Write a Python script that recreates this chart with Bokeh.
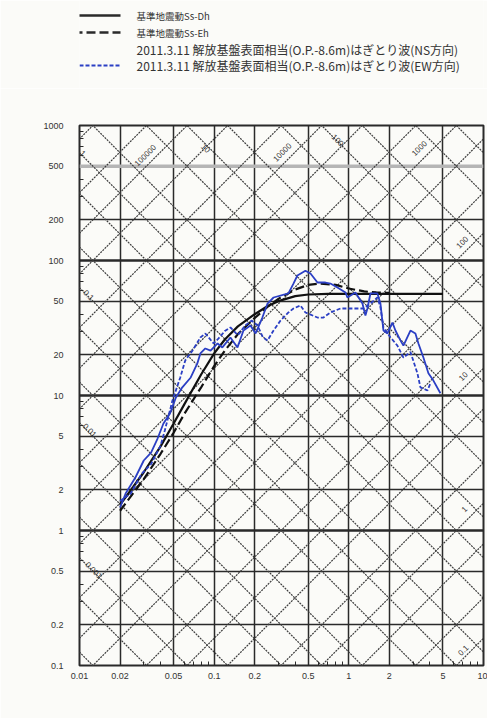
import math
from bokeh.plotting import figure
from bokeh.models import Range1d, FixedTicker, Grid, Label, CustomJSTickFormatter, Span, Arrow
from bokeh.layouts import column
from bokeh.embed import file_html
from bokeh.resources import INLINE
from bokeh.core.properties import value

# ---------------- data ----------------
dh_period = [0.02, 0.025, 0.03, 0.04, 0.05, 0.06, 0.07, 0.08, 0.1, 0.12, 0.15, 0.2, 0.25, 0.3, 0.4, 0.5, 0.7, 1.0, 2.0, 5.0]
dh_vel = [1.55, 2.1, 2.7, 4.2, 6.2, 8.6, 11.3, 14.3, 20.5, 26.0, 32.5, 40.0, 46.0, 50.0, 54.5, 56.0, 56.5, 56.5, 56.5, 56.5]

eh_period = [0.02, 0.03, 0.04, 0.05, 0.06, 0.08, 0.1, 0.12, 0.15, 0.2, 0.25, 0.3, 0.4, 0.5, 0.6, 0.8, 1.0, 1.3, 1.6, 2.0]
eh_vel = [1.4, 2.4, 3.7, 5.3, 7.3, 11.5, 16.5, 21.5, 28.5, 37.5, 45.5, 52.0, 61.0, 66.0, 67.5, 66.0, 62.0, 59.0, 58.0, 57.5]

ns_period = [0.020, 0.022, 0.026, 0.030, 0.034, 0.038, 0.042, 0.047, 0.052, 0.058, 0.067, 0.075, 0.079, 0.086,
             0.094, 0.106, 0.115, 0.132, 0.149, 0.165, 0.186, 0.203, 0.228, 0.249, 0.276, 0.356, 0.388, 0.415,
             0.476, 0.519, 0.585, 0.670, 0.730, 0.823, 0.944, 0.976, 1.119, 1.262, 1.328, 1.374, 1.447, 1.630,
             1.717, 1.807, 1.935, 2.107, 2.218, 2.416, 2.543, 2.867, 3.122, 3.287, 3.579, 3.899, 4.246, 4.786]
ns_vel = [1.48, 1.88, 2.47, 3.30, 3.78, 4.80, 6.20, 7.36, 9.66, 11.5, 13.6, 17.3, 20.5, 22.3,
          21.5, 24.3, 22.7, 26.9, 22.7, 30.3, 33.0, 28.8, 37.8, 48.0, 53.2, 57.0, 67.5, 77.4,
          84.0, 80.1, 68.7, 68.7, 67.5, 63.1, 58.0, 53.2, 58.0, 48.0, 39.1, 44.1, 57.0, 57.0,
          48.0, 30.3, 28.8, 34.7, 30.3, 25.6, 23.4, 30.3, 28.8, 24.3, 19.1, 14.6, 12.9, 10.4]

ew_period = [0.020, 0.024, 0.029, 0.034, 0.040, 0.043, 0.049, 0.056, 0.061, 0.069, 0.079, 0.086, 0.099, 0.106,
             0.120, 0.132, 0.150, 0.170, 0.190, 0.210, 0.230, 0.249, 0.276, 0.311, 0.356, 0.388, 0.437, 0.476,
             0.585, 0.648, 0.730, 0.866, 0.944, 1.082, 1.284, 1.447, 1.630, 1.717, 1.807, 2.036, 2.295, 2.543,
             2.867, 3.231, 3.401, 3.833, 4.035]
ew_vel = [1.65, 1.88, 2.64, 3.10, 4.26, 5.5, 9.18, 13.6, 18.2, 21.5, 26.9, 28.8, 24.3, 26.0,
          30.0, 31.9, 28.0, 33.0, 35.9, 33.0, 27.0, 25.6, 30.3, 35.9, 41.2, 44.1, 46.4, 41.2,
          37.8, 37.8, 41.2, 44.1, 44.1, 44.1, 44.1, 48.0, 53.2, 44.9, 31.9, 27.0, 23.4, 19.1,
          21.0, 14.6, 11.5, 10.9, 12.3]

legend_labels = ["基準地震動Ss-Dh", "基準地震動Ss-Eh",
                 "2011.3.11 解放基盤表面相当(O.P.-8.6m)はぎとり波(NS方向)",
                 "2011.3.11 解放基盤表面相当(O.P.-8.6m)はぎとり波(EW方向)"]

x_ticks = [0.01, 0.02, 0.05, 0.1, 0.2, 0.5, 1, 2, 5, 10]
y_ticks = [0.1, 0.2, 0.5, 1, 2, 5, 10, 20, 50, 100, 200, 500, 1000]
x_minor = [0.03, 0.04, 0.06, 0.07, 0.08, 0.09, 0.3, 0.4, 0.6, 0.7, 0.8, 0.9, 3, 4, 6, 7, 8, 9]
y_minor = [0.3, 0.4, 0.6, 0.7, 0.8, 0.9, 3, 4, 6, 7, 8, 9, 30, 40, 60, 70, 80, 90, 300, 400, 600, 700, 800, 900]
accel_lines = [0.01, 0.02, 0.05, 0.1, 0.2, 0.5, 1, 2, 5, 10, 20, 50, 100, 200, 500, 1000, 2000, 5000,
               1e4, 2e4, 5e4, 1e5, 2e5, 5e5, 1e6]          # cm/s^2
disp_lines = [1e-4, 2e-4, 5e-4, 0.001, 0.002, 0.005, 0.01, 0.02, 0.05, 0.1, 0.2, 0.5, 1, 2, 5,
              10, 20, 50, 100, 200, 500, 1000, 2000]       # cm
accel_labels = ["100000", "10000", "1000", "100", "10", "1", "0.1"]
disp_labels = ["1", "0.1", "0.01", "0.001", "10", "100"]

# ---------------- layout ----------------
W = 487
H_LEG = 88
H_MAIN = 630
FL, FR = 79, 4            # frame borders (left/right), shared by both strips
BG = "#fbfbf8"
INK = "#2a2a2a"
BLUE = "#2b3fc4"
NUM_FONT = "Liberation Sans"
JP_FONT = "Noto Sans CJK JP"

# legend strip (its frame is aligned with the chart frame; data x == page x)
leg = figure(width=W, height=H_LEG, x_range=Range1d(FL, W - FR), y_range=Range1d(H_LEG, 0),
             x_axis_type=None, y_axis_type=None, toolbar_location=None, output_backend="svg",
             min_border_left=FL, min_border_right=FR, min_border_top=0, min_border_bottom=0)
leg.grid.visible = False
leg.outline_line_color = None
leg.background_fill_color = BG
leg.border_fill_color = BG
rows = [15, 32, 49, 65]
leg.add_layout(Arrow(end=None, x_start=73, y_start=rows[0], x_end=120, y_end=rows[0],
                     line_color=INK, line_width=2.5))
leg.add_layout(Arrow(end=None, x_start=73, y_start=rows[1], x_end=120, y_end=rows[1],
                     line_color=INK, line_width=2.5, line_dash="9 4"))
leg.add_layout(Arrow(end=None, x_start=73, y_start=rows[3], x_end=121, y_end=rows[3],
                     line_color=BLUE, line_width=2.2, line_dash="4 2"))
leg.text(x=[136, 136], y=rows[:2], text=legend_labels[:2], text_font=value(JP_FONT),
         text_font_size="9.5px", text_baseline="middle", text_color="#333")
leg.text(x=[136, 136], y=rows[2:], text=legend_labels[2:], text_font=value(JP_FONT),
         text_font_size="12px", text_baseline="middle", text_color="#333")

# main tripartite chart
p = figure(width=W, height=H_MAIN, x_axis_type="log", y_axis_type="log",
           x_range=Range1d(0.01, 10), y_range=Range1d(0.1, 1000),
           toolbar_location=None, output_backend="svg",
           min_border_left=FL, min_border_right=FR, min_border_top=37, min_border_bottom=53)
p.background_fill_color = BG
p.border_fill_color = BG
p.outline_line_color = INK
p.outline_line_width = 2

fmt = CustomJSTickFormatter(code="return String(tick);")
p.xaxis.ticker = FixedTicker(ticks=x_ticks, minor_ticks=x_minor)
p.yaxis.ticker = FixedTicker(ticks=y_ticks, minor_ticks=y_minor)
for ax in (p.xaxis[0], p.yaxis[0]):
    ax.formatter = fmt
    ax.axis_line_color = None
    ax.major_tick_in = 0
    ax.major_tick_out = 0
    ax.minor_tick_in = 4
    ax.minor_tick_out = 0
    ax.minor_tick_line_color = INK
    ax.major_label_text_font = NUM_FONT
    ax.major_label_text_font_size = "9px"
    ax.major_label_text_color = "#333"
p.xaxis.major_label_standoff = 7
p.yaxis.major_label_standoff = 16

# grid: thin 1-2-5 lines, heavy horizontal decade lines
p.grid.visible = False
p.add_layout(Grid(dimension=0, ticker=FixedTicker(ticks=x_ticks),
                  grid_line_color=INK, grid_line_width=1.5))
p.add_layout(Grid(dimension=1, ticker=FixedTicker(ticks=[v for v in y_ticks if v not in (0.1, 1, 10, 100, 1000)]),
                  grid_line_color=INK, grid_line_width=1.4))
p.add_layout(Grid(dimension=1, ticker=FixedTicker(ticks=[1, 10, 100]),
                  grid_line_color=INK, grid_line_width=2.6))
p.add_layout(Span(location=500, dimension="width", line_color="#b5b5b5", line_width=3.5,
                  level="underlay"))

# diagonal acceleration / displacement lines
T0, T1 = 0.005, 20.0
xs, ys = [], []
for a in accel_lines:
    xs.append([T0, T1]); ys.append([a * T0 / (2 * math.pi), a * T1 / (2 * math.pi)])
for d in disp_lines:
    xs.append([T0, T1]); ys.append([2 * math.pi * d / T0, 2 * math.pi * d / T1])
p.multi_line(xs, ys, line_color="#3c3c3c", line_width=1.2, line_dash="2 1")

# spectra
p.line(dh_period, dh_vel, line_color="#111", line_width=2.2)
p.line(eh_period, eh_vel, line_color="#111", line_width=2.2, line_dash="9 4")
p.line(ns_period, ns_vel, line_color=BLUE, line_width=1.8)
p.line(ew_period, ew_vel, line_color=BLUE, line_width=1.8, line_dash="4 2")


# ---------------- text annotations ----------------
def at(xp, yp):
    """page pixel -> data coordinates of main chart (for placing labels)"""
    return 10 ** (-2 + (xp - 79) / 134.67), 10 ** (3 - (yp - 125) / 135.0)


def put(text, xp, yp, ang=0.0, size="8px", font=NUM_FONT, align="center"):
    x, y = at(xp, yp)
    p.add_layout(Label(x=x, y=y, text=text, angle=math.radians(ang), text_font=font,
                       text_font_size=size, text_align=align, text_baseline="middle",
                       text_color="#333"))


accel_pos = [(145, 155), (282, 152), (419, 148), (462, 242), (463, 376), (464, 509), (463, 650)]
for t, (xp, yp) in zip(accel_labels, accel_pos):
    put(t, xp, yp, ang=45)
disp_pos = [(82, 153), (88, 295), (89, 430), (93, 570), (205, 148), (337, 140)]
for t, (xp, yp) in zip(disp_labels, disp_pos):
    put(t, xp, yp, ang=-45)

put("(cm/s²)", 192, 106, ang=45, size="7.5px")
put("(cm)", 312, 108, ang=-45, size="7.5px")
put("(h=0.05)", 452, 120, size="7px")

put("速", 28, 377, size="10px", font=JP_FONT)
put("度", 28, 398, size="10px", font=JP_FONT)
put("(cm/s)", 28, 426, size="9px")
put("周 期(秒)", 281, 706, size="10px", font=JP_FONT)

layout = column(leg, p, spacing=0)
open("out.html", "w").write(file_html(layout, INLINE))
